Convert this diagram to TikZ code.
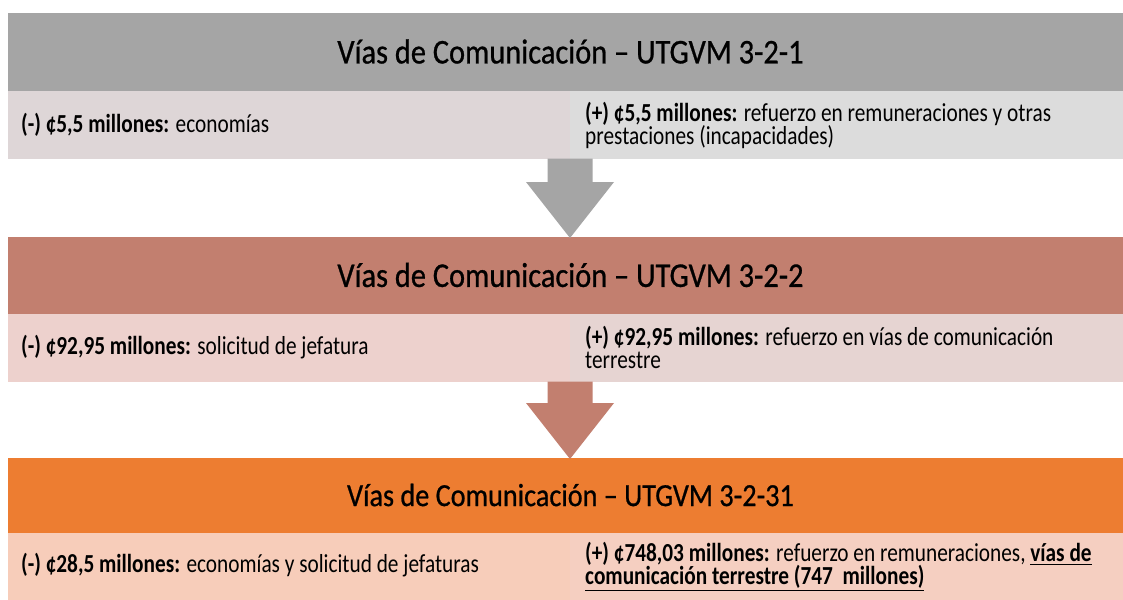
\documentclass[tikz,border=0pt]{standalone}
\usepackage{fontspec}
\setmainfont{Carlito}
\newfontface\hdrfont{Carlito}[FakeBold=0.8]
\usepackage{graphicx}
\usetikzlibrary{calc}
\definecolor{hgray}{HTML}{A5A5A5}
\definecolor{rAl}{HTML}{DED6D7}
\definecolor{rAr}{HTML}{DCDCDC}
\definecolor{hbrown}{HTML}{C27F6F}
\definecolor{rBl}{HTML}{EDD1CD}
\definecolor{rBr}{HTML}{E6D4D2}
\definecolor{horange}{HTML}{ED7D31}
\definecolor{rCl}{HTML}{F7CDBA}
\definecolor{rCr}{HTML}{F5CFC1}
\newcommand\hdrtxt[2]{\scalebox{1}[1.14]{\hdrfont\fontsize{#1}{#1}\selectfont #2}}
\newcommand\onel[1]{\scalebox{1}[1.22]{\fontsize{21.3}{18.8}\selectfont #1}}
\newcommand\twol[2]{\scalebox{1}[1.22]{\fontsize{21.3}{18.8}\selectfont\vbox{\baselineskip=18.8pt\lineskiplimit=-\maxdimen\hbox{#1}\hbox{#2}}}}
\begin{document}
\begin{tikzpicture}[x=1pt,y=-1pt,
  hdrbox/.style={shape=rectangle,inner sep=0pt,outer sep=0pt,anchor=north west,minimum width=1125pt,minimum height=77.5pt},
  cellbox/.style={shape=rectangle,inner sep=0pt,outer sep=0pt,anchor=north west,minimum height=67.5pt},
  htext/.style={inner sep=0pt,text=black},
  ctext/.style={inner sep=0pt,anchor=west,text=black,align=left}]
\clip (0,0) rectangle (1123,599);
\fill[white] (0,0) rectangle (1123,599);
% level 1
\node[hdrbox,fill=hgray] (h1) at (8,13.5) {};
\node[cellbox,fill=rAl,minimum width=562pt] (c1l) at (8,91) {};
\node[cellbox,fill=rAr,minimum width=563pt] (c1r) at (570,91) {};
\node[htext] (t1) at (570.5,51.5) {\hdrtxt{30.4}{Vías de Comunicación – UTGVM 3-2-1}};
\node[ctext] (t1l) at (21,125) {\onel{\textbf{(-) ¢5,5 millones:} economías}};
\node[ctext] (t1r) at (585,125) {\twol{\textbf{(+) ¢5,5 millones:} refuerzo en remuneraciones y otras}{prestaciones (incapacidades)}};
% level 2
\node[hdrbox,fill=hbrown] (h2) at (8,237) {};
\node[cellbox,fill=rBl,minimum width=562pt] (c2l) at (8,314) {};
\node[cellbox,fill=rBr,minimum width=563pt] (c2r) at (570,314) {};
\node[htext] (t2) at (570.5,275) {\hdrtxt{30.4}{Vías de Comunicación – UTGVM 3-2-2}};
\node[ctext] (t2l) at (21,347.5) {\onel{\textbf{(-) ¢92,95 millones:} solicitud de jefatura}};
\node[ctext] (t2r) at (585,347.5) {\twol{\textbf{(+) ¢92,95 millones:} refuerzo en vías de comunicación}{terrestre}};
% level 3
\node[hdrbox,fill=horange,minimum height=75pt] (h3) at (8,458) {};
\node[cellbox,fill=rCl,minimum width=562pt,minimum height=70pt] (c3l) at (8,533) {};
\node[cellbox,fill=rCr,minimum width=563pt,minimum height=70pt] (c3r) at (570,533) {};
\node[htext] (t3) at (570.5,495) {\hdrtxt{28.2}{Vías de Comunicación – UTGVM 3-2-31}};
\node[ctext] (t3l) at (21,565) {\onel{\textbf{(-) ¢28,5 millones:} economías y solicitud de jefaturas}};
\node[ctext] (t3r) at (585,567) {\twol{\textbf{(+) ¢748,03 millones:} refuerzo en remuneraciones, \underline{\textbf{vías de}}}{\underline{\textbf{comunicación terrestre (747~~millones)}}}};
% arrows
\coordinate (s1) at (c1l.south east);
\coordinate (e1) at ($(h2.north -| s1)+(0,1)$);
\fill[hgray] ($(s1)+(-22.5,0)$) -- ($(s1)+(22.5,0)$) -- ($(e1)+(22.5,-56)$) -- ($(e1)+(44,-56)$) -- (e1) -- ($(e1)+(-44,-56)$) -- ($(e1)+(-22.5,-56)$) -- cycle;
\coordinate (s2) at (c2l.south east);
\coordinate (e2) at ($(h3.north -| s2)+(0,1)$);
\fill[hbrown] ($(s2)+(-22.5,0)$) -- ($(s2)+(22.5,0)$) -- ($(e2)+(22.5,-56)$) -- ($(e2)+(44,-56)$) -- (e2) -- ($(e2)+(-44,-56)$) -- ($(e2)+(-22.5,-56)$) -- cycle;
\end{tikzpicture}
\end{document}
